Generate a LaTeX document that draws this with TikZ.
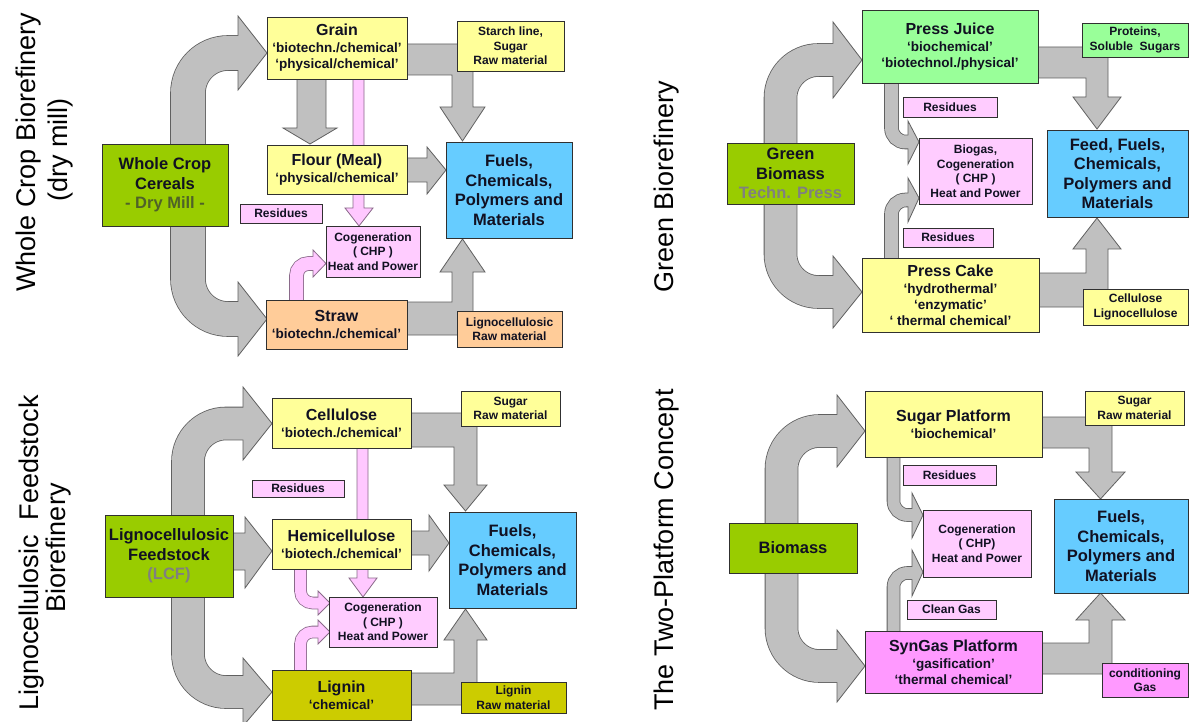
\documentclass[tikz,border=0pt]{standalone}
\usepackage{fontspec}
\setmainfont{Liberation Sans}
\usetikzlibrary{backgrounds}
\definecolor{gfill}{HTML}{C0C0C0}
\definecolor{gline}{HTML}{606060}
\definecolor{pfill}{HTML}{FFC8FF}
\definecolor{pline}{HTML}{8A6A8A}
\definecolor{boxline}{HTML}{303030}
\definecolor{txt}{HTML}{111122}
\definecolor{cgreen}{HTML}{99CC00}
\definecolor{cyellow}{HTML}{FFFF99}
\definecolor{cblue}{HTML}{66CCFF}
\definecolor{cpink}{HTML}{FFCCFF}
\definecolor{corange}{HTML}{FFCC99}
\definecolor{clgreen}{HTML}{99FF99}
\definecolor{colive}{HTML}{CCCC00}
\definecolor{cmagenta}{HTML}{FF99FF}
\definecolor{dmill}{HTML}{4F6228}
\definecolor{techgray}{HTML}{808080}

\newcommand\fT{\fontsize{16}{18}\selectfont}
\newcommand\fS{\fontsize{13.5}{16}\selectfont}
\newcommand\fB{\fontsize{16.5}{19.5}\selectfont}
\newcommand\fN{\fontsize{12}{14.5}\selectfont}
\newcommand\fH{\fontsize{27}{30}\selectfont}

% polygon block arrow (grey or pink)
\newcommand\PolyArrow[3]{\filldraw[fill=#1, draw=#2, line width=0.8pt, line join=miter] #3 -- cycle;}
% bent band arrow: fill, line, width, radius, centre path, head polygon(s)
\newcommand\BentArrow[6]{%
  \draw[draw=#2, line width=#3pt+1.6pt, rounded corners=#4pt] #5;
  \filldraw[fill=#1, draw=#2, line width=0.8pt, line join=miter] #6;
  \draw[draw=#1, line width=#3pt, rounded corners=#4pt] #5;
}

\tikzset{
  box/.style={draw=boxline, line width=0.9pt, inner sep=0pt, align=center, text=txt, font=\bfseries\fS},
  bx/.style 2 args={minimum width=#1, minimum height=#2},
  ttl/.style={rotate=90, font=\fH, text=black, inner sep=0pt},
}

\begin{document}
\begin{tikzpicture}[x=1pt, y=-1pt]
\useasboundingbox (0,0) rectangle (1189,722);

% ================= Quadrant 1 : Whole Crop =================
\node[ttl] (t1a) at (29,152) {Whole Crop Biorefinery};
\node[ttl] (t1b) at (61,150) {(dry mill)};

\node[box, fill=cgreen, bx={126}{82}, font=\bfseries\fB] (wcc) at (165,185) {Whole Crop\\Cereals\\\textcolor{dmill}{- Dry Mill -}};
\node[box, fill=cyellow, bx={140}{62}] (grain) at (337,48) {{\fT Grain}\\[1pt]‘biotechn./chemical’\\‘physical/chemical’};
\node[box, fill=cyellow, bx={107}{50}, font=\bfseries\fN] (starch) at (510.5,46) {Starch line,\\Sugar\\Raw material};
\node[box, fill=cyellow, bx={140}{49}] (flour) at (337,169.5) {{\fT Flour (Meal)}\\[1pt]‘physical/chemical’};
\node[box, fill=cblue, bx={126}{96}, font=\bfseries\fB] (fuels1) at (509,190) {Fuels,\\Chemicals,\\Polymers and\\Materials};
\node[box, fill=cpink, bx={82}{19}, font=\bfseries\fN] (res1) at (281,213.5) {Residues};
\node[box, fill=cpink, bx={94}{51}, font=\bfseries\fN] (cogen1) at (373,251.5) {Cogeneration\\( CHP )\\Heat and Power};
\node[box, fill=corange, bx={141}{49}] (straw) at (336.5,324.5) {{\fT Straw}\\[1pt]‘biotechn./chemical’};
\node[box, fill=corange, bx={105}{36}, font=\bfseries\fN] (ligraw1) at (509.5,329) {Lignocellulosic\\Raw material};

% ================= Quadrant 2 : Green =================
\node[ttl] (t2) at (667,187) {Green Biorefinery};

\node[box, fill=cgreen, bx={127}{61}, font=\bfseries\fB] (green) at (790.5,173.5) {Green\\Biomass\\\textcolor{techgray}{Techn. Press}};
\node[box, fill=clgreen, bx={176}{73}] (juice) at (950,46.5) {{\fT Press Juice}\\[1pt]‘biochemical’\\‘biotechnol./physical’};
\node[box, fill=clgreen, bx={106}{34}, font=\bfseries\fN] (prot) at (1135,40) {Proteins,\\Soluble\ \ Sugars};
\node[box, fill=cblue, bx={141}{87}, font=\bfseries\fB] (feed) at (1117.5,173.5) {Feed, Fuels,\\Chemicals,\\Polymers and\\Materials};
\node[box, fill=cpink, bx={94}{20}, font=\bfseries\fN] (res2a) at (950,107) {Residues};
\node[box, fill=cpink, bx={113}{66}, font=\bfseries\fN] (biogas) at (975.5,171) {Biogas,\\Cogeneration\\( CHP )\\Heat and Power};
\node[box, fill=cpink, bx={90}{19}, font=\bfseries\fN] (res2b) at (948,237.5) {Residues};
\node[box, fill=cyellow, bx={177}{74}] (cake) at (950.5,295) {{\fT Press Cake}\\[1pt]‘hydrothermal’\\‘enzymatic’\\‘ thermal chemical’};
\node[box, fill=cyellow, bx={105}{36}, font=\bfseries\fN] (cellig) at (1135.5,307) {Cellulose\\Lignocellulose};

% ================= Quadrant 3 : LCF =================
\node[ttl] (t3a) at (32,553) {Lignocellulosic\ \ Feedstock};
\node[ttl] (t3b) at (59,548) {Biorefinery};

\node[box, fill=cgreen, bx={128}{82}, font=\bfseries\fB] (lcf) at (169,556) {Lignocellulosic\\Feedstock\\\textcolor{techgray}{(LCF)}};
\node[box, fill=cyellow, bx={139}{50}] (cell) at (341.5,423) {{\fT Cellulose}\\[1pt]‘biotech./chemical’};
\node[box, fill=cyellow, bx={99}{35}, font=\bfseries\fN] (sugraw3) at (510.5,408.5) {Sugar\\Raw material};
\node[box, fill=cpink, bx={92}{17}, font=\bfseries\fN] (res3) at (298,488.5) {Residues};
\node[box, fill=cyellow, bx={139}{50}] (hemi) at (341.5,544) {{\fT Hemicellulose}\\[1pt]‘biotech./chemical’};
\node[box, fill=cblue, bx={127}{96}, font=\bfseries\fB] (fuels3) at (512.5,560) {Fuels,\\Chemicals,\\Polymers and\\Materials};
\node[box, fill=cpink, bx={108}{50}, font=\bfseries\fN] (cogen3) at (383,622) {Cogeneration\\( CHP )\\Heat and Power};
\node[box, fill=colive, bx={139}{50}] (lignin) at (341.5,695) {{\fT Lignin}\\[1pt]‘chemical’};
\node[box, fill=colive, bx={105}{31}, font=\bfseries\fN] (ligraw3) at (513.5,697.5) {Lignin\\Raw material};

% ================= Quadrant 4 : Two-Platform =================
\node[ttl] (t4) at (667,550) {The Two-Platform Concept};

\node[box, fill=cgreen, bx={128}{50}, font=\bfseries\fB] (biomass) at (793,548) {Biomass};
\node[box, fill=cyellow, bx={177}{66}] (sugarp) at (953.5,424) {{\fT Sugar Platform}\\[1pt]‘biochemical’};
\node[box, fill=cyellow, bx={99}{34}, font=\bfseries\fN] (sugraw4) at (1134.5,408) {Sugar\\Raw material};
\node[box, fill=cblue, bx={134}{94}, font=\bfseries\fB] (fuels4) at (1121,546) {Fuels,\\Chemicals,\\Polymers and\\Materials};
\node[box, fill=cpink, bx={93}{20}, font=\bfseries\fN] (res4) at (949.5,475) {Residues};
\node[box, fill=cpink, bx={108}{67}, font=\bfseries\fN] (cogen4) at (977,543.5) {Cogeneration\\( CHP)\\Heat and Power};
\node[box, fill=cpink, bx={89}{19}, font=\bfseries\fN] (clean) at (951.5,609.5) {Clean Gas};
\node[box, fill=cmagenta, bx={177}{62}] (syngas) at (953.5,662) {{\fT SynGas Platform}\\[1pt]‘gasification’\\‘thermal chemical’};
\node[box, fill=cmagenta, bx={86}{34}, font=\bfseries\fN] (cond) at (1145,680) {conditioning\\Gas};

% ================= Arrows (behind the boxes) =================
\begin{pgfonlayer}{background}
\fill[white] (0,0) rectangle (1189,722);
% ---- Q1
\BentArrow{gfill}{gline}{34}{40}{(241,53) -- (188,53) -- (188,319) -- (241,319)}
  {(238,16) -- (267,53) -- (238,90) -- cycle (238,282) -- (267,319) -- (238,356) -- cycle}
\PolyArrow{gfill}{gline}{(400,44) -- (473,44) -- (473,107) -- (485,107) -- (462.5,141) -- (440,107) -- (452,107) -- (452,75) -- (400,75)}
\PolyArrow{gfill}{gline}{(400,335) -- (473,335) -- (473,272) -- (485,272) -- (462.5,239) -- (440,272) -- (452,272) -- (452,302) -- (400,302)}
\PolyArrow{gfill}{gline}{(297,75) -- (297,128) -- (283,128) -- (310,144) -- (337,128) -- (326,128) -- (326,75)}
\PolyArrow{gfill}{gline}{(400,158) -- (427,158) -- (427,147) -- (446,170) -- (427,194) -- (427,182) -- (400,182)}
\PolyArrow{pfill}{pline}{(353,75) -- (353,208) -- (345,208) -- (359,226) -- (373,208) -- (364,208) -- (364,75)}
\BentArrow{pfill}{pline}{13}{12}{(296.5,306) -- (296.5,263.5) -- (315,263.5)}
  {(313,250) -- (326,263.5) -- (313,277) -- cycle}
% ---- Q2
\BentArrow{gfill}{gline}{32}{38}{(836,60) -- (780.5,60) -- (780.5,292) -- (836,292)}
  {(833,22) -- (862,60) -- (833,98) -- cycle (833,256) -- (862,292) -- (833,328) -- cycle}
\PolyArrow{gfill}{gline}{(1030,47) -- (1108,47) -- (1108,97) -- (1121,97) -- (1097,129) -- (1073,97) -- (1086,97) -- (1086,78) -- (1030,78)}
\PolyArrow{gfill}{gline}{(1030,307) -- (1108,307) -- (1108,249) -- (1121,249) -- (1097,218) -- (1073,249) -- (1086,249) -- (1086,273) -- (1030,273)}
\BentArrow{gfill}{gline}{13}{14}{(891.5,80) -- (891.5,142) -- (910,142)}
  {(908,121) -- (919,142) -- (908,164) -- cycle}
\BentArrow{gfill}{gline}{13}{14}{(891.5,262) -- (891.5,200) -- (910,200)}
  {(908,178) -- (919,198) -- (908,222) -- cycle}
% ---- Q3
\BentArrow{gfill}{gline}{32}{38}{(245,423.5) -- (188,423.5) -- (188,692) -- (245,692)}
  {(243,387) -- (272,423.5) -- (243,460) -- cycle (243,658) -- (272,692) -- (243,726) -- cycle}
\PolyArrow{gfill}{gline}{(225,533) -- (245,533) -- (245,517) -- (272,551) -- (245,588) -- (245,570) -- (225,570)}
\PolyArrow{gfill}{gline}{(405,413) -- (477,413) -- (477,485) -- (487,485) -- (465.5,511) -- (444,485) -- (454,485) -- (454,447) -- (405,447)}
\PolyArrow{gfill}{gline}{(405,531) -- (429,531) -- (429,515) -- (449,543) -- (429,571) -- (429,555) -- (405,555)}
\PolyArrow{gfill}{gline}{(405,705) -- (477,705) -- (477,640) -- (487,640) -- (465.5,609) -- (444,640) -- (454,640) -- (454,673) -- (405,673)}
\PolyArrow{pfill}{pline}{(357,445) -- (357,578) -- (349,578) -- (363,597) -- (377,578) -- (368,578) -- (368,445)}
\BentArrow{pfill}{pline}{11}{12}{(300.5,565) -- (300.5,603) -- (320,603)}
  {(318,591) -- (330,603) -- (318,615) -- cycle}
\BentArrow{pfill}{pline}{11}{12}{(300.5,674) -- (300.5,632) -- (320,632)}
  {(318,620) -- (330,632) -- (318,644) -- cycle}
% ---- Q4
\BentArrow{gfill}{gline}{32}{38}{(839,431) -- (781.5,431) -- (781.5,666) -- (839,666)}
  {(837,395) -- (865,431) -- (837,467) -- cycle (837,630) -- (865,666) -- (837,702) -- cycle}
\PolyArrow{gfill}{gline}{(1035,417) -- (1112,417) -- (1112,472) -- (1125,472) -- (1100.5,499) -- (1076,472) -- (1089,472) -- (1089,448) -- (1035,448)}
\PolyArrow{gfill}{gline}{(1035,674) -- (1112,674) -- (1112,620) -- (1125,620) -- (1100.5,593) -- (1076,620) -- (1089,620) -- (1089,643) -- (1035,643)}
\BentArrow{gfill}{gline}{12}{14}{(893.5,452) -- (893.5,515) -- (914,515)}
  {(912,493) -- (923,515) -- (912,538) -- cycle}
\BentArrow{gfill}{gline}{12}{14}{(893.5,636) -- (893.5,573) -- (914,573)}
  {(912,550) -- (923,572) -- (912,596) -- cycle}
\end{pgfonlayer}
\end{tikzpicture}
\end{document}
